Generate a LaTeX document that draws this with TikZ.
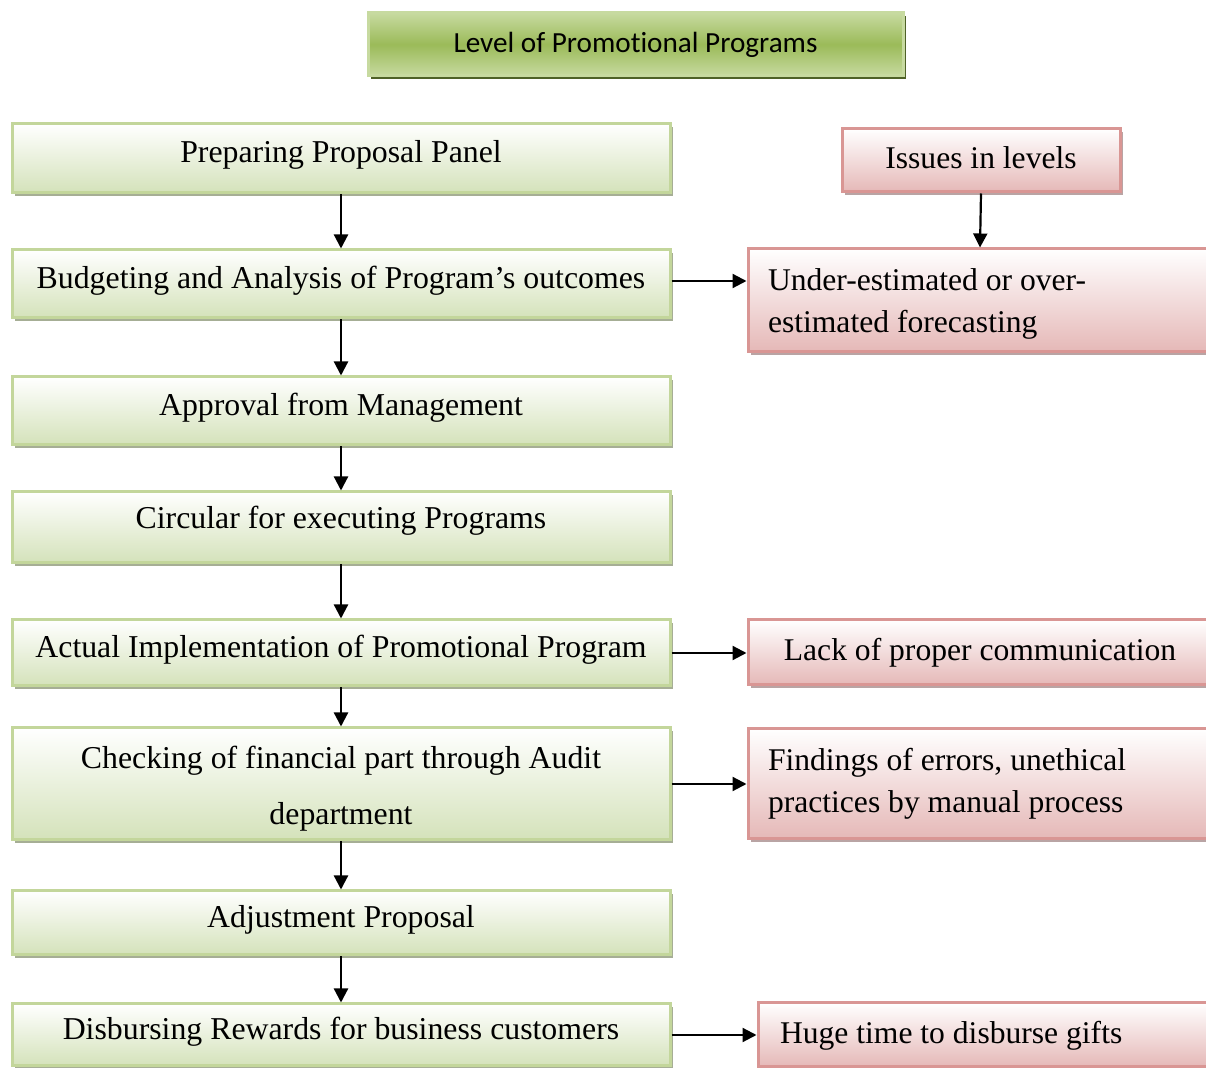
\documentclass[tikz,border=0pt]{standalone}
\usepackage{fontspec}
\setmainfont{Liberation Serif}
\newfontfamily\titlefont[Ligatures=NoCommon]{Carlito}
\usepackage{tikz}
\usetikzlibrary{arrows.meta,shadows,positioning}

\definecolor{stageline}{HTML}{C3D69B}
\definecolor{stagefill}{HTML}{D4E2BA}
\definecolor{stageshadow}{HTML}{A6AE95}
\definecolor{issueline}{HTML}{D99694}
\definecolor{issuefill}{HTML}{E5B8B7}
\definecolor{issueshadow}{HTML}{B9A4A4}
\definecolor{headmid}{HTML}{9BBB59}
\definecolor{headlight}{HTML}{C7DAA0}
\definecolor{headshadow}{HTML}{4F6228}

\tikzset{
  stage/.style={draw=stageline, line width=1.5pt, top color=white, bottom color=stagefill,
    minimum width=329pt, inner sep=0pt, font=\fontsize{15.9}{28}\selectfont,
    text height=.68em, text depth=.24em,
    drop shadow={shadow xshift=1.5pt, shadow yshift=-1.5pt, fill=stageshadow, opacity=1}},
  issue/.style={draw=issueline, line width=1.5pt, top color=white, bottom color=issuefill,
    inner sep=0pt, font=\fontsize{15.8}{21}\selectfont,
    drop shadow={shadow xshift=1.5pt, shadow yshift=-1.5pt, fill=issueshadow, opacity=1}},
  flow/.style={-{Triangle[length=7pt,width=7pt]}, line width=1.1pt},
}

\begin{document}
\begin{tikzpicture}[x=0.5pt,y=-0.5pt]
	\useasboundingbox (0,0) rectangle (1206,1068);
	% heading
	\node[draw=headlight, line width=1.5pt, top color=headlight, bottom color=headlight, middle color=headmid,
	  minimum width=267.5pt, minimum height=31.5pt, inner sep=0pt, font=\titlefont\fontsize{14.6}{17}\selectfont,
	  drop shadow={shadow xshift=1.5pt, shadow yshift=-1.5pt, fill=headshadow, opacity=1}]
	  (title) at (635.5,44.5) {Level of Promotional Programs};
	% stages of the program
	\node[stage, minimum height=34.5pt] (prep) at (341,158.5) {Preparing Proposal Panel};
	\node[stage, minimum height=34pt] (budget) at (341,284) {Budgeting and Analysis of Program’s outcomes};
	\node[stage, minimum height=34pt] (approve) at (341,411) {Approval from Management};
	\node[stage, minimum height=35.5pt, text depth=.55em] (circular) at (341,527.5) {Circular for executing Programs};
	\node[stage, minimum height=33pt] (implement) at (341,653) {Actual Implementation of Promotional Program};
	\node[stage, minimum height=56pt, align=center, text height=, text depth=] (audit) at (341,784) {\rule{0pt}{1em}Checking of financial part through Audit\\department};
	\node[stage, minimum height=32pt] (adjust) at (341,923) {Adjustment Proposal};
	\node[stage, minimum height=31pt] (disburse) at (341,1035) {Disbursing Rewards for business customers};
	% issues
	\node[issue, minimum width=139pt, minimum height=31.5pt, text height=.85em, text depth=0em] (issues) at (981,160.5) {Issues in levels};
	\node[issue, minimum width=232pt, minimum height=51.5pt, text width=212pt, align=flush left] (forecast) at (980,300.5) {\rule{0pt}{.93em}Under-estimated or over-\\estimated forecasting};
	\node[issue, minimum width=232pt, minimum height=32.5pt, text height=.85em, text depth=0em] (communic) at (980,652.5) {Lack of proper communication};
	\node[issue, minimum width=232pt, minimum height=55pt, text width=212pt, align=flush left] (errors) at (980,784) {Findings of errors, unethical\\practices by manual process};
	\node[issue, minimum width=227pt, minimum height=32pt, text width=205pt, align=flush left, text height=.88em, text depth=0em] (gifts) at (985,1035) {Huge time to disburse gifts};
	% connectors
	\foreach \a/\b in {prep/budget, budget/approve, approve/circular, circular/implement,
	                   implement/audit, audit/adjust, adjust/disburse}
	  \draw[flow] (\a.south) -- (\b.north);
	\draw[flow] (issues.south) -- (forecast.north);
	\draw[flow] ([yshift=1.5pt]budget.east) -- ([yshift=1.5pt]budget.east -| forecast.west);
	\draw[flow] (implement.east) -- (implement.east -| communic.west);
	\draw[flow] (audit.east) -- (audit.east -| errors.west);
	\draw[flow] (disburse.east) -- (disburse.east -| gifts.west);
\end{tikzpicture}
\end{document}
